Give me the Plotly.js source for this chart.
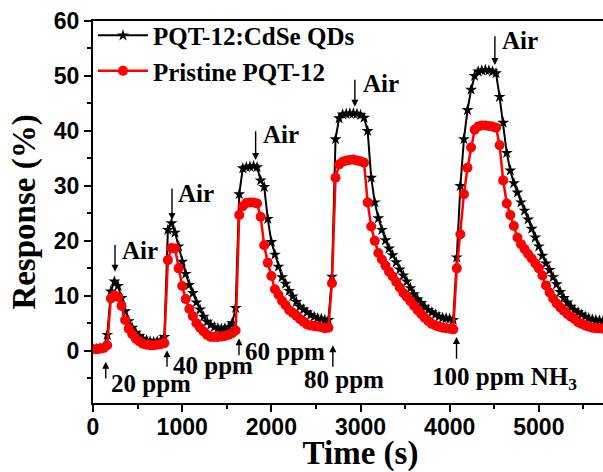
<!DOCTYPE html>
<html>
<head>
<meta charset="utf-8">
<script src="https://cdn.plot.ly/plotly-3.0.1.min.js"></script>
<style>
  html, body { margin: 0; padding: 0; background: #fff; overflow: hidden; }
  #wrap { width: 603px; height: 472px; overflow: hidden; }
  #chart { width: 640px; height: 472px; }
</style>
</head>
<body>
<div id="wrap"><div id="chart"></div></div>
<script>
// Time (s)
const timeS = [
  0,40,80,120,160,200,240,280,320,360,400,440,480,520,560,600,640,680,720,760,
  800,840,880,920,960,1000,1040,1080,1120,1160,1200,1240,1280,1320,1360,1400,1440,1480,1520,1560,
  1600,1640,1680,1720,1760,1800,1840,1880,1920,1960,2000,2040,2080,2120,2160,2200,2240,2280,2320,2360,
  2400,2440,2480,2520,2560,2600,2640,2680,2720,2760,2800,2840,2880,2920,2960,3000,3040,3080,3120,3160,
  3200,3240,3280,3320,3360,3400,3440,3480,3520,3560,3600,3640,3680,3720,3760,3800,3840,3880,3920,3960,
  4000,4040,4080,4120,4160,4200,4240,4280,4320,4360,4400,4440,4480,4520,4560,4600,4640,4680,4720,4760,
  4800,4840,4880,4920,4960,5000,5040,5080,5120,5160,5200,5240,5280,5320,5360,5400,5440,5480,5520,5560,
  5600,5640,5680,5720,5760,5800
];
// Response (%) PQT-12:CdSe QDs
const qdResponse = [
  0.3,0.3,0.4,0.6,2.9,10.8,12.6,11.8,9.6,7.2,5.4,4.2,3.3,2.7,2.2,1.9,1.7,1.6,1.7,1.9,
  2.5,22.0,23.2,21.5,19.0,16.2,14.0,12.0,10.5,8.8,7.5,6.2,5.3,4.7,4.3,4.1,4.0,4.1,4.3,5.0,
  7.8,28.5,33.2,33.4,33.5,33.6,33.4,31.0,29.8,24.0,19.8,17.5,15.3,13.4,12.2,10.9,9.9,8.9,8.0,7.5,
  7.0,6.5,6.2,5.9,5.8,5.6,5.6,13.5,38.5,42.3,43.0,43.1,43.2,43.2,43.1,42.9,42.4,40.0,31.5,27.0,
  24.1,22.0,20.1,18.6,17.4,16.1,14.8,13.7,12.6,11.4,10.3,9.4,8.7,8.0,7.4,7.0,6.6,6.2,6.0,5.9,
  5.8,5.6,17.0,30.0,38.5,43.8,47.5,50.0,50.8,51.0,51.1,51.0,50.8,50.5,46.2,41.5,36.0,32.8,30.5,28.8,
  27.0,25.5,23.9,22.2,20.6,19.0,17.3,15.9,14.7,13.4,12.1,10.7,9.6,8.8,8.0,7.4,7.0,6.6,6.2,5.9,
  5.7,5.6,5.5,5.4,5.3,5.3
];
// Response (%) Pristine PQT-12
const pristineResponse = [
  0.3,0.3,0.4,0.5,1.0,9.5,10.1,9.8,8.2,5.6,4.0,3.0,2.2,1.7,1.3,1.1,1.0,1.0,1.1,1.2,
  1.4,16.5,18.7,18.6,15.0,11.8,9.4,7.6,6.3,5.0,4.2,3.5,2.9,2.5,2.5,2.5,2.6,2.7,2.9,3.2,
  3.7,24.7,26.3,26.9,27.0,27.0,26.8,24.4,19.2,16.0,13.6,11.2,10.2,9.1,8.3,7.4,6.9,6.4,5.8,5.3,
  4.8,4.6,4.5,4.4,4.3,4.1,4.2,12.3,31.5,33.9,34.4,34.6,34.7,34.8,34.6,34.5,34.2,27.0,22.6,20.0,
  17.8,16.6,15.5,14.4,13.5,12.5,11.5,10.5,9.8,9.0,8.2,7.4,6.7,6.0,5.4,4.9,4.6,4.4,4.2,4.1,
  4.0,3.9,15.0,21.2,28.5,33.3,37.0,40.2,40.8,41.0,41.0,40.9,40.8,40.6,37.4,31.0,26.8,24.7,22.7,20.6,
  19.4,18.5,17.6,16.8,15.9,15.0,13.7,11.9,10.6,9.5,8.6,7.9,7.3,6.7,6.2,5.8,5.2,4.9,4.6,4.4,
  4.2,4.1,4.1,4.0,4.0,3.9
];
const seriesNames = ['PQT-12:CdSe QDs', 'Pristine PQT-12'];

// "Air" labels: arrow x, arrow top, arrow tip, text x, text y
const airArrowX = [247, 886, 1824, 2937, 4507];
const airArrowTop = [19.5, 29.8, 40.2, 49.6, 57.5];
const airArrowTip = [14.4, 23.8, 34.7, 44.4, 52.0];
const airTextX = [305, 930, 1880, 3000, 4560];
const airTextY = [18.3, 28.7, 39.4, 48.7, 56.4];

// Gas-on labels
const gasLabels = ['20 ppm', '40 ppm', '60 ppm', '80 ppm', '100 ppm NH<sub>3</sub>'];
const gasArrowX = [143, 830, 1637, 2690, 4077];
const gasArrowTip = [-2.0, 0.1, 2.3, 1.0, 2.5];
const gasArrowTail = [-5.3, -3.2, -1.1, -3.2, -1.7];
const gasTextX = [179, 874, 1682, 2819, 4619];
const gasTextY = [-5.9, -2.7, -0.2, -5.3, -5.0];
const gasTextAnchor = ['left', 'left', 'left', 'center', 'center'];

const serif = {family: 'Liberation Serif, Times New Roman, serif', size: 25, color: '#000', weight: 'bold'};

const annotations = [];
for (let i = 0; i < airArrowX.length; i++) {
  annotations.push({x: airArrowX[i], y: airArrowTip[i], ax: airArrowX[i], ay: airArrowTop[i],
    axref: 'x', ayref: 'y', xref: 'x', yref: 'y', text: '', showarrow: true,
    arrowhead: 2, arrowsize: 1, arrowwidth: 1.4, arrowcolor: '#000', standoff: 0});
  annotations.push({x: airTextX[i], y: airTextY[i], xref: 'x', yref: 'y', text: 'Air',
    showarrow: false, xanchor: 'left', yanchor: 'middle', font: serif});
}
for (let i = 0; i < gasArrowX.length; i++) {
  annotations.push({x: gasArrowX[i], y: gasArrowTip[i], ax: gasArrowX[i], ay: gasArrowTail[i],
    axref: 'x', ayref: 'y', xref: 'x', yref: 'y', text: '', showarrow: true,
    arrowhead: 2, arrowsize: 1, arrowwidth: 1.4, arrowcolor: '#000', standoff: 0});
  annotations.push({x: gasTextX[i], y: gasTextY[i], xref: 'x', yref: 'y', text: gasLabels[i],
    showarrow: false, xanchor: gasTextAnchor[i], yanchor: 'middle', font: serif});
}

const traces = [
  {x: timeS, y: qdResponse, name: seriesNames[0], type: 'scatter', mode: 'lines+markers',
   line: {color: '#000', width: 2}, marker: {symbol: 'star', size: 9, color: '#000'}},
  {x: timeS, y: pristineResponse, name: seriesNames[1], type: 'scatter', mode: 'lines+markers',
   line: {color: '#ff0000', width: 2.5}, marker: {symbol: 'circle', size: 10, color: '#ff0000'}}
];

const tickFont = {family: 'Liberation Sans, Arial, sans-serif', size: 23, color: '#000', weight: 'bold'};
const titleFont = {family: 'Liberation Serif, Times New Roman, serif', size: 33, color: '#000', weight: 'bold'};

const layout = {
  width: 640, height: 472,
  margin: {l: 93, r: 12, t: 21, b: 69},
  paper_bgcolor: '#fff', plot_bgcolor: '#fff',
  showlegend: true,
  legend: {x: 0, y: 1.022, xanchor: 'left', yanchor: 'top', bgcolor: 'rgba(0,0,0,0)',
    font: {family: 'Liberation Serif, Times New Roman, serif', size: 25, color: '#000', weight: 'bold'},
    itemwidth: 50, tracegroupgap: 0},
  xaxis: {range: [0, 6000], dtick: 1000, tick0: 0, ticks: 'outside', ticklen: 7, tickwidth: 2,
    tickcolor: '#000', showline: true, linecolor: '#000', linewidth: 2, mirror: true,
    showgrid: false, zeroline: false, tickfont: tickFont, ticklabelstandoff: -5,
    minor: {dtick: 500, ticks: 'outside', ticklen: 4, tickwidth: 2, tickcolor: '#000', showgrid: false},
    title: {text: 'Time (s)', font: titleFont, standoff: 4}},
  yaxis: {range: [-9.5, 60], dtick: 10, tick0: 0, ticks: 'outside', ticklen: 7, tickwidth: 2,
    tickcolor: '#000', showline: true, linecolor: '#000', linewidth: 2, mirror: true,
    showgrid: false, zeroline: false, tickfont: tickFont,
    minor: {dtick: 5, ticks: 'outside', ticklen: 4, tickwidth: 2, tickcolor: '#000', showgrid: false},
    title: {text: 'Response (%)', font: titleFont, standoff: 8}},
  annotations: annotations
};

Plotly.newPlot('chart', traces, layout, {displayModeBar: false, staticPlot: true});
</script>
</body>
</html>
